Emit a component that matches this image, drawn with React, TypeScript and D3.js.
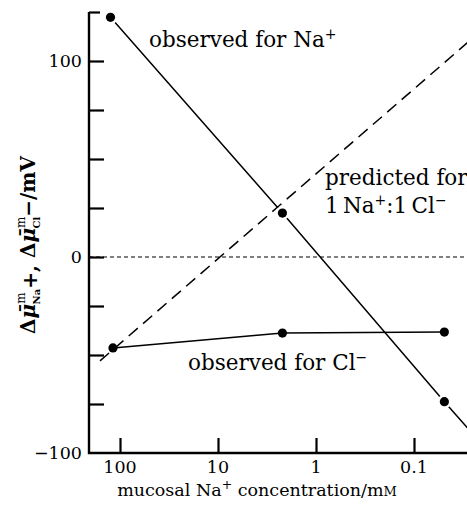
import { useEffect, useRef } from 'react';
import * as d3 from 'd3';

// mucosal Na+ concentration (mM) and potential differences (mV)
const concTicks = [100, 10, 1, 0.1];
const mvTicks = [-75, -50, -25, 0, 25, 50, 75, 100, 125];
const mvLabels = [100, 0, -100];

const naConc = [125, 2.2, 0.049];
const naMv = [122.3, 22.4, -73.8];
// observed Na+ line carried on past the last point
const naTailConc = [0.02];
const naTailMv = [-96];

const clConc = [118, 2.2, 0.049];
const clMv = [-46.4, -38.8, -38.3];

const predConc = [160, 0.02];
const predMv = [-53, 116];

const FONT = '"DejaVu Serif", serif';

function Chart() {
  const svgRef = useRef<SVGSVGElement>(null);

  useEffect(() => {
    const W = 467;
    const H = 505;
    const svg = d3.select(svgRef.current);
    svg.selectAll('*').remove();
    svg.attr('width', W).attr('height', H).style('font-family', FONT);

    const axisX = 89;
    const axisY = 453;

    const x = d3.scaleLog().domain([100, 0.1]).range([120, 414]);
    const y = d3.scaleLinear().domain([-100, 100]).range([453, 61]);

    const line = d3
      .line<[number, number]>()
      .x((d) => x(d[0]))
      .y((d) => y(d[1]));

    const zip = (a: number[], b: number[]) => a.map((v, i) => [v, b[i]] as [number, number]);

    const clipId = 'plot-clip';
    svg
      .append('defs')
      .append('clipPath')
      .attr('id', clipId)
      .append('rect')
      .attr('x', axisX)
      .attr('y', 0)
      .attr('width', W - axisX)
      .attr('height', axisY);

    const plot = svg.append('g').attr('clip-path', `url(#${clipId})`);

    // zero line
    plot
      .append('line')
      .attr('x1', axisX)
      .attr('x2', W)
      .attr('y1', y(0))
      .attr('y2', y(0))
      .attr('stroke', '#000')
      .attr('stroke-width', 1)
      .attr('stroke-dasharray', '4,3');

    // predicted 1 Na+ : 1 Cl-
    plot
      .append('path')
      .attr('d', line(zip(predConc, predMv)))
      .attr('fill', 'none')
      .attr('stroke', '#000')
      .attr('stroke-width', 1.5)
      .attr('stroke-dasharray', '12,7');

    // observed Na+
    plot
      .append('path')
      .attr('d', line(zip(naConc.concat(naTailConc), naMv.concat(naTailMv))))
      .attr('fill', 'none')
      .attr('stroke', '#000')
      .attr('stroke-width', 1.5);

    // white gaps round the Na+ points
    plot
      .selectAll('circle.halo')
      .data(zip(naConc, naMv))
      .enter()
      .append('circle')
      .attr('class', 'halo')
      .attr('cx', (d) => x(d[0]))
      .attr('cy', (d) => y(d[1]))
      .attr('r', 7)
      .attr('fill', '#fff');

    // observed Cl-
    plot
      .append('path')
      .attr('d', line(zip(clConc, clMv)))
      .attr('fill', 'none')
      .attr('stroke', '#000')
      .attr('stroke-width', 1.5);

    const pts = zip(naConc, naMv).concat(zip(clConc, clMv));
    plot
      .selectAll('circle.pt')
      .data(pts)
      .enter()
      .append('circle')
      .attr('class', 'pt')
      .attr('cx', (d) => x(d[0]))
      .attr('cy', (d) => y(d[1]))
      .attr('r', 4.6)
      .attr('fill', '#000');

    // axes
    const yAxis = svg
      .append('g')
      .attr('transform', `translate(${axisX},0)`)
      .call(d3.axisLeft(y).tickValues(mvTicks).tickSizeInner(-15).tickSizeOuter(0).tickFormat(() => ''));
    yAxis.select('.domain').remove();
    yAxis.selectAll('.tick line').attr('stroke', '#000').attr('stroke-width', 2.2);
    yAxis
      .selectAll<SVGGElement, number>('.tick')
      .filter((d) => d === 125)
      .select('line')
      .attr('x2', 11);

    const xAxis = svg
      .append('g')
      .attr('transform', `translate(0,${axisY})`)
      .call(d3.axisBottom(x).tickValues(concTicks).tickSizeInner(-15).tickSizeOuter(0).tickFormat(() => ''));
    xAxis.select('.domain').remove();
    xAxis.selectAll('.tick line').attr('stroke', '#000').attr('stroke-width', 2.2);

    svg
      .append('path')
      .attr('d', `M${axisX},${y(125)}V${axisY}H${W}`)
      .attr('fill', 'none')
      .attr('stroke', '#000')
      .attr('stroke-width', 2.4);

    // tick labels
    svg
      .selectAll('text.ylab')
      .data(mvLabels)
      .enter()
      .append('text')
      .attr('class', 'ylab')
      .attr('x', 82)
      .attr('y', (d) => y(d))
      .attr('dy', '0.36em')
      .attr('text-anchor', 'end')
      .style('font-size', '17.5px')
      .text((d) => (d < 0 ? `\u2212${-d}` : `${d}`));

    svg
      .selectAll('text.xlab')
      .data(concTicks)
      .enter()
      .append('text')
      .attr('class', 'xlab')
      .attr('x', (d) => x(d))
      .attr('y', 473)
      .attr('text-anchor', 'middle')
      .style('font-size', '17.5px')
      .text((d) => `${d}`);

    // x title
    const xt = svg
      .append('text')
      .attr('x', 257)
      .attr('y', 496)
      .attr('text-anchor', 'middle')
      .style('font-size', '17.5px');
    xt.append('tspan').text('mucosal Na');
    xt.append('tspan').attr('dy', -7).style('font-size', '12.5px').text('+');
    xt.append('tspan').attr('dy', 7).text(' concentration/m');
    xt.append('tspan').style('font-size', '13px').text('M');

    // y title
    const yt = svg
      .append('text')
      .attr('transform', 'translate(35,245) rotate(-90)')
      .attr('text-anchor', 'middle')
      .style('font-size', '20px')
      .style('font-weight', 'bold');
    yt.append('tspan').text('\u0394');
    yt.append('tspan').style('font-style', 'italic').text('\u03bc\u0304');
    yt.append('tspan').attr('dy', -10).style('font-size', '12px').style('font-weight', 'normal').text('m');
    yt.append('tspan').attr('dx', -12).attr('dy', 15).style('font-size', '10px').text('Na');
    yt.append('tspan').attr('dy', -3).text('+, ');
    yt.append('tspan').attr('dy', -2).text('\u0394');
    yt.append('tspan').style('font-style', 'italic').text('\u03bc\u0304');
    yt.append('tspan').attr('dy', -10).style('font-size', '12px').style('font-weight', 'normal').text('m');
    yt.append('tspan').attr('dx', -12).attr('dy', 15).style('font-size', '10px').text('Cl');
    yt.append('tspan').attr('dy', -5).text('\u2212/mV');

    // series labels
    const LF = '21.5px';
    const lab = (tx: number, ty: number, main: string, sup: string) => {
      const t = svg.append('text').attr('x', tx).attr('y', ty).style('font-size', LF);
      t.append('tspan').text(main);
      t.append('tspan').attr('dy', -8).style('font-size', '14px').text(sup);
      return t;
    };
    lab(149, 47, 'observed for Na', '+');
    lab(188, 370, 'observed for Cl', '\u2212');
    svg.append('text').attr('x', 325).attr('y', 185).style('font-size', LF).text('predicted for');
    const p2 = svg.append('text').attr('x', 325).attr('y', 213).style('font-size', LF);
    p2.append('tspan').text('1\u2009Na');
    p2.append('tspan').attr('dy', -8).style('font-size', '14px').text('+');
    p2.append('tspan').attr('dy', 8).text(':1\u2009Cl');
    p2.append('tspan').attr('dy', -8).style('font-size', '14px').text('\u2212');
  }, []);

  return <svg ref={svgRef} style={{ position: 'absolute', left: 0, top: 0 }} />;
}

export default function App() {
  return <Chart />;
}
